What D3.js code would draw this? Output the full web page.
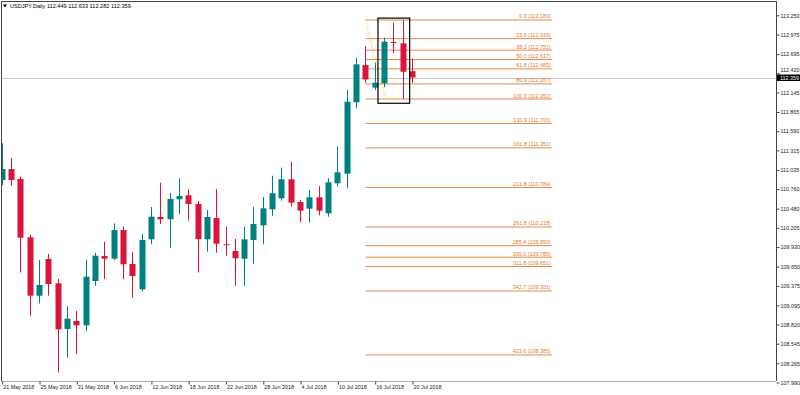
<!DOCTYPE html>
<html>
<head>
<meta charset="utf-8">
<script src="https://cdn.jsdelivr.net/npm/d3@7"></script>
<style>
  body { margin: 0; background: #fff; }
  text { font-family: "Liberation Sans", Arial, sans-serif; }
</style>
</head>
<body>
<div id="chart"></div>
<script>
// USDJPY daily bars, 21 May - 20 Jul 2018
var dates = ['21 May','22 May','23 May','24 May','25 May','28 May','29 May','30 May','31 May','1 Jun',
  '4 Jun','5 Jun','6 Jun','7 Jun','8 Jun','11 Jun','12 Jun','13 Jun','14 Jun','15 Jun',
  '18 Jun','19 Jun','20 Jun','21 Jun','22 Jun','25 Jun','26 Jun','27 Jun','28 Jun','29 Jun',
  '2 Jul','3 Jul','4 Jul','5 Jul','6 Jul','9 Jul','10 Jul','11 Jul','12 Jul','13 Jul',
  '16 Jul','17 Jul','18 Jul','19 Jul','20 Jul'];
var opens  = [110.891,111.048,110.905,110.070,109.233,109.759,109.411,108.756,108.871,108.809,
  109.444,109.802,109.763,110.174,109.687,109.325,110.041,110.361,110.328,110.614,
  110.672,110.547,110.041,110.346,109.971,109.874,109.763,110.031,110.242,110.471,
  110.629,110.901,110.576,110.480,110.643,110.414,110.843,110.981,112.004,112.538,
  112.213,112.276,112.868,112.849,112.449];
var highs  = [111.417,111.206,110.938,110.103,109.745,109.831,109.472,109.086,109.014,109.745,
  109.849,110.007,110.270,110.222,109.859,110.121,110.504,110.852,110.709,110.915,
  110.758,110.590,110.461,110.762,110.222,110.046,110.222,110.504,110.647,110.952,
  111.067,111.149,110.604,110.748,110.805,110.915,111.368,112.184,112.643,112.811,
  112.571,112.929,113.144,113.183,112.633];
var lows   = [110.819,110.805,109.563,108.947,109.124,109.233,108.130,108.345,108.394,108.727,
  109.376,109.472,109.745,109.472,109.204,109.296,109.970,110.260,109.921,110.399,
  110.308,109.566,109.864,109.849,109.806,109.376,109.376,109.692,109.970,110.379,
  110.594,110.508,110.285,110.279,110.385,110.365,110.795,110.772,111.918,112.283,
  112.180,112.219,112.706,112.051,112.282];
var closes = [111.048,110.891,110.064,109.233,109.386,109.401,108.752,108.904,108.809,109.505,
  109.806,109.763,110.174,109.683,109.515,110.031,110.365,110.328,110.619,110.662,
  110.547,110.043,110.361,109.978,109.967,109.769,110.041,110.260,110.485,110.700,
  110.901,110.566,110.451,110.643,110.451,110.858,111.001,112.013,112.548,112.331,
  112.285,112.872,112.864,112.442,112.359];

var yTicks = [113.250,112.975,112.695,112.420,112.145,111.865,111.590,111.315,111.035,110.760,
  110.480,110.205,109.930,109.650,109.375,109.095,108.820,108.545,108.265,107.990];
var xTicks = [0,4,8,12,16,20,24,28,32,36,40,44];

var fibLevels = [0.0,23.6,38.2,50.0,61.8,80.9,100.0,130.9,161.8,211.8,261.8,285.4,300.0,311.8,342.7,423.6];
var fibPrices = [113.183,112.916,112.751,112.617,112.483,112.267,112.051,111.701,111.351,110.784,
  110.218,109.950,109.785,109.651,109.301,108.385];

var lastPrice = 112.359;

var svgWidth = 800, svgHeight = 395;
var plotRight = 776, plotBottom = 381;

var svg = d3.select('#chart').append('svg')
  .attr('width', svgWidth)
  .attr('height', svgHeight);

var bars = dates.map(function(d, i) {
  return {i: i, date: d, o: opens[i], h: highs[i], l: lows[i], c: closes[i]};
});

var x = d3.scaleLinear().domain([0, 44]).range([1.7, 412]);
var y = d3.scaleLinear().domain([107.99, 113.25]).range([382.47, 15.32]);

var bull = '#008080', bear = '#dc143c';

// clip to plot
svg.append('clipPath').attr('id', 'clip')
  .append('rect').attr('x', 1).attr('y', 2).attr('width', plotRight - 1).attr('height', plotBottom - 2);

var plot = svg.append('g').attr('clip-path', 'url(#clip)');

// current price line
plot.append('line')
  .attr('x1', 0).attr('x2', plotRight)
  .attr('y1', Math.round(y(lastPrice)) + 0.5).attr('y2', Math.round(y(lastPrice)) + 0.5)
  .attr('stroke', '#c8c8c8');

// fibonacci levels
var fibG = plot.append('g');
fibLevels.forEach(function(lv, k) {
  var yy = y(fibPrices[k]);
  fibG.append('line')
    .attr('x1', x(39)).attr('x2', x(59))
    .attr('y1', yy).attr('y2', yy)
    .attr('stroke', '#e38a4b').attr('stroke-width', 1);
  fibG.append('text')
    .attr('x', x(59) - 1).attr('y', yy - 1.5)
    .attr('text-anchor', 'end')
    .attr('font-size', '5.4px')
    .attr('fill', '#e07a30')
    .text(lv.toFixed(1) + ' (' + fibPrices[k].toFixed(3) + ')');
});

// fibo trend line
plot.append('line')
  .attr('x1', x(39)).attr('y1', y(fibPrices[0]))
  .attr('x2', x(41.2)).attr('y2', y(fibPrices[6]))
  .attr('stroke', '#f3d23c').attr('stroke-width', 1)
  .attr('stroke-dasharray', '1.5,1.5');

// candles
var candle = plot.selectAll('g.bar').data(bars).enter().append('g').attr('class', 'bar');

candle.append('line')
  .attr('x1', d => Math.round(x(d.i)) + 0.5)
  .attr('x2', d => Math.round(x(d.i)) + 0.5)
  .attr('y1', d => y(d.h))
  .attr('y2', d => y(d.l))
  .attr('stroke', d => d.c >= d.o ? bull : bear);

candle.append('rect')
  .attr('x', d => Math.round(x(d.i)) - 2.5)
  .attr('width', 6)
  .attr('y', d => y(Math.max(d.o, d.c)))
  .attr('height', d => Math.max(1, Math.abs(y(d.o) - y(d.c))))
  .attr('fill', d => d.c >= d.o ? bull : bear);

// selection rectangle
plot.append('rect')
  .attr('x', x(40.35)).attr('y', y(113.21))
  .attr('width', x(43.75) - x(40.35))
  .attr('height', y(111.99) - y(113.21))
  .attr('fill', 'none')
  .attr('stroke', '#000')
  .attr('stroke-width', 1.2);

// frame
svg.append('path')
  .attr('d', 'M1.5,' + plotBottom + 'V1.5H' + (plotRight + 0.5) + 'V' + plotBottom)
  .attr('fill', 'none').attr('stroke', '#444');
svg.append('line')
  .attr('x1', 1).attr('x2', plotRight)
  .attr('y1', plotBottom + 0.5).attr('y2', plotBottom + 0.5)
  .attr('stroke', '#aaa');

// y axis
var yAxis = d3.axisRight(y).tickValues(yTicks).tickFormat(d3.format('.3f')).tickSize(3).tickSizeOuter(0);
var yg = svg.append('g').attr('transform', 'translate(' + (plotRight + 0.5) + ',0)').call(yAxis);
yg.select('.domain').remove();
yg.selectAll('line').attr('stroke', '#444');
yg.selectAll('text').attr('font-size', '5.4px').attr('fill', '#222').attr('x', 4)
  .attr('font-family', '"Liberation Sans", Arial, sans-serif');
// the label next to the price box sits a little higher, as in the terminal
yg.selectAll('text').filter(d => d === 112.420).attr('dy', '-0.25em');

// price label
var py = y(lastPrice);
svg.append('rect').attr('x', plotRight + 1).attr('y', py - 3).attr('width', svgWidth - plotRight).attr('height', 6.5).attr('fill', '#000');
svg.append('text').attr('x', plotRight + 4).attr('y', py + 2)
  .attr('font-size', '5.4px').attr('fill', '#fff').text(lastPrice.toFixed(3));

// x axis
var xAxis = d3.axisBottom(x).tickValues(xTicks).tickFormat(i => dates[i] + ' 2018').tickSize(3).tickSizeOuter(0);
var xg = svg.append('g').attr('transform', 'translate(0.5,' + (plotBottom + 0.5) + ')').call(xAxis);
xg.select('.domain').remove();
xg.selectAll('line').attr('stroke', '#444');
xg.selectAll('text').attr('font-size', '5.4px').attr('fill', '#222')
  .attr('text-anchor', 'start').attr('x', 0.5).attr('y', 4).attr('dy', '0.71em')
  .attr('font-family', '"Liberation Sans", Arial, sans-serif');

// title
svg.append('path').attr('d', 'M3,4.5L7,4.5L5,7.5Z').attr('fill', '#000');
svg.append('text').attr('x', 10).attr('y', 8)
  .attr('font-size', '5.6px').attr('fill', '#000')
  .text('USDJPY,Daily  112.449 112.633 112.282 112.359');
</script>
</body>
</html>
